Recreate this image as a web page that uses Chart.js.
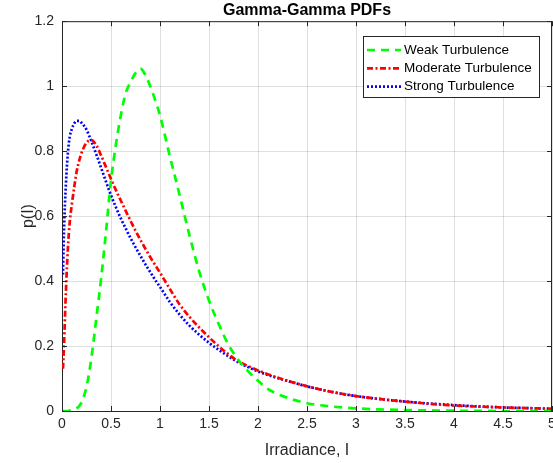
<!DOCTYPE html>
<html>
<head>
<meta charset="utf-8">
<script src="https://cdn.jsdelivr.net/npm/chart.js@4"></script>
<style>
  html, body { margin: 0; padding: 0; background: #fff; }
  #wrap { width: 553px; height: 463px; }
</style>
</head>
<body>
<div id="wrap"><canvas id="pdfChart"></canvas></div>
<script>
// irradiance samples (x)
const irradiance = [0.01, 0.02, 0.04, 0.06, 0.08, 0.1, 0.125, 0.15, 0.175, 0.2, 0.25, 0.3, 0.35, 0.4, 0.45, 0.5, 0.55, 0.6, 0.65, 0.7, 0.75, 0.8, 0.85, 0.9, 0.95, 1.0, 1.1, 1.2, 1.3, 1.4, 1.5, 1.6, 1.7, 1.8, 1.9, 2.0, 2.1, 2.25, 2.5, 2.75, 3.0, 3.5, 4.0, 4.5, 5.0];

// values
const weakPdf = [0, 0, 0, 0, 0.001, 0.002, 0.004, 0.008, 0.015, 0.027, 0.075, 0.163, 0.285, 0.41, 0.555, 0.71, 0.82, 0.91, 0.978, 1.013, 1.04, 1.054, 1.035, 1.0, 0.958, 0.91, 0.785, 0.665, 0.542, 0.43, 0.34, 0.267, 0.203, 0.157, 0.122, 0.093, 0.068, 0.046, 0.024, 0.014, 0.008, 0.003, 0.001, 0, 0];
const moderatePdf = [0.13, 0.2, 0.37, 0.5, 0.585, 0.635, 0.69, 0.738, 0.77, 0.795, 0.826, 0.834, 0.818, 0.786, 0.75, 0.714, 0.68, 0.648, 0.616, 0.585, 0.555, 0.527, 0.5, 0.474, 0.45, 0.426, 0.376, 0.328, 0.29, 0.257, 0.227, 0.199, 0.174, 0.153, 0.138, 0.125, 0.113, 0.098, 0.076, 0.059, 0.046, 0.029, 0.017, 0.011, 0.007];
const strongPdf = [0.42, 0.55, 0.7, 0.795, 0.845, 0.868, 0.885, 0.893, 0.893, 0.887, 0.866, 0.83, 0.79, 0.748, 0.705, 0.664, 0.627, 0.593, 0.562, 0.532, 0.504, 0.478, 0.452, 0.428, 0.404, 0.382, 0.336, 0.297, 0.263, 0.235, 0.21, 0.188, 0.168, 0.15, 0.135, 0.122, 0.111, 0.097, 0.076, 0.059, 0.046, 0.029, 0.018, 0.011, 0.007];

const seriesLabels = ["Weak Turbulence", "Moderate Turbulence", "Strong Turbulence"];

const toPoints = (ys) => irradiance.map((x, i) => ({ x: x, y: ys[i] }));

const axisColor = "#262626";
const fontFamily = "'Liberation Sans', Arial, sans-serif";
const tickText = (v) => String(Math.round(v * 10) / 10);

// box, inward ticks and legend inside the plot (matlab look)
const matlabAxes = {
  id: "matlabAxes",
  afterDatasetsDraw(chart) {
    const { ctx, chartArea: a, scales } = chart;
    ctx.save();
    ctx.strokeStyle = axisColor;
    ctx.lineWidth = 1;
    ctx.beginPath();
    ctx.moveTo(a.left, a.top + 0.5);
    ctx.lineTo(a.right, a.top + 0.5);
    ctx.moveTo(a.right - 0.5, a.top);
    ctx.lineTo(a.right - 0.5, a.bottom);
    scales.x.ticks.forEach((t) => {
      const px = Math.round(scales.x.getPixelForValue(t.value)) + 0.5;
      ctx.moveTo(px, a.bottom);
      ctx.lineTo(px, a.bottom - 5);
      ctx.moveTo(px, a.top);
      ctx.lineTo(px, a.top + 5);
    });
    scales.y.ticks.forEach((t) => {
      const py = Math.round(scales.y.getPixelForValue(t.value)) + 0.5;
      ctx.moveTo(a.left, py);
      ctx.lineTo(a.left + 5, py);
      ctx.moveTo(a.right, py);
      ctx.lineTo(a.right - 5, py);
    });
    ctx.stroke();

    // legend
    const bx = 363, by = 36, bw = 176, bh = 61;
    ctx.fillStyle = "#fff";
    ctx.fillRect(bx, by, bw, bh);
    ctx.strokeStyle = axisColor;
    ctx.strokeRect(bx + 0.5, by + 0.5, bw, bh);
    ctx.font = "13.5px " + fontFamily;
    ctx.textBaseline = "middle";
    chart.data.datasets.forEach((ds, i) => {
      const y = 50 + i * 18.3;
      ctx.save();
      ctx.strokeStyle = ds.borderColor;
      ctx.lineWidth = ds.borderWidth;
      ctx.setLineDash(ds.borderDash || []);
      ctx.beginPath();
      ctx.moveTo(367, y);
      ctx.lineTo(401, y);
      ctx.stroke();
      ctx.restore();
      ctx.fillStyle = "#000";
      ctx.fillText(ds.label, 404, y);
    });
    ctx.restore();
  },
};

const ctx = document.getElementById("pdfChart").getContext("2d");
const pdfChart = new Chart(ctx, {
  type: "line",
  data: {
    datasets: [
      {
        label: seriesLabels[0],
        data: toPoints(weakPdf),
        borderColor: "#00ff00",
        borderWidth: 2.7,
        borderDash: [8, 6],
      },
      {
        label: seriesLabels[1],
        data: toPoints(moderatePdf),
        borderColor: "#ff0000",
        borderWidth: 2.7,
        borderDash: [6, 2.5, 2, 2.5],
      },
      {
        label: seriesLabels[2],
        data: toPoints(strongPdf),
        borderColor: "#0000ff",
        borderWidth: 2.7,
        borderDash: [2, 2],
      },
    ],
  },
  options: {
    responsive: true,
    maintainAspectRatio: false,
    animation: false,
    layout: { padding: { left: 0, right: 1, top: 0, bottom: 0 } },
    elements: {
      point: { radius: 0 },
      line: { cubicInterpolationMode: "monotone", fill: false },
    },
    scales: {
      x: {
        type: "linear",
        min: 0,
        max: 5,
        ticks: {
          stepSize: 0.5,
          color: axisColor,
          font: { family: fontFamily, size: 14 },
          padding: 5,
          maxRotation: 0,
          callback: tickText,
        },
        grid: { color: "rgba(38,38,38,0.15)", drawTicks: false },
        border: { color: axisColor, width: 1 },
        title: {
          display: true,
          text: "Irradiance, I",
          color: axisColor,
          font: { family: fontFamily, size: 16 },
          padding: { top: 0, bottom: 3 },
        },
        afterFit(scale) {
          scale.height = 52;
          scale.paddingLeft = 0;
          scale.paddingRight = 0;
        },
      },
      y: {
        min: 0,
        max: 1.2,
        ticks: {
          stepSize: 0.2,
          color: axisColor,
          font: { family: fontFamily, size: 14 },
          padding: 8,
          callback: tickText,
        },
        grid: { color: "rgba(38,38,38,0.15)", drawTicks: false },
        border: { color: axisColor, width: 1 },
        title: {
          display: true,
          text: "p(I)",
          color: axisColor,
          font: { family: fontFamily, size: 16 },
          padding: { top: 19, bottom: 0 },
        },
        afterFit(scale) {
          scale.width = 62;
          scale.paddingTop = 0;
          scale.paddingBottom = 0;
        },
      },
    },
    plugins: {
      legend: { display: false },
      tooltip: { enabled: false },
      title: {
        display: true,
        fullSize: false,
        text: "Gamma-Gamma PDFs",
        color: "#000",
        font: { family: fontFamily, size: 16, weight: "bold" },
        padding: { top: 1, bottom: 1 },
      },
    },
  },
  plugins: [matlabAxes],
});
</script>
</body>
</html>
